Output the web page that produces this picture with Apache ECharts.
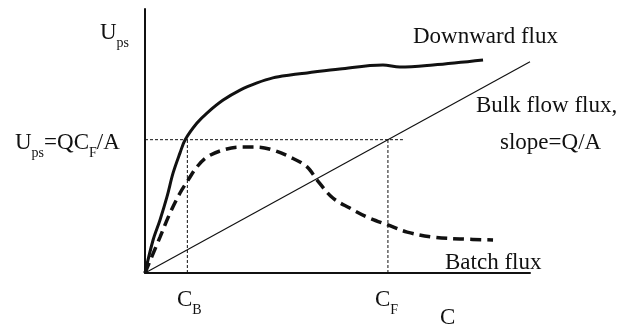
<!DOCTYPE html>
<html><head><meta charset="utf-8">
<script src="https://cdn.jsdelivr.net/npm/echarts@6/dist/echarts.min.js"></script>
<style>html,body{margin:0;padding:0;background:#fff}#c{width:621px;height:326px}</style>
</head><body><div id="c"></div>
<script>
// Concentration C (x) values and flux values (y), arbitrary units
const downwardX = [0, 0.21, 0.39, 0.57, 0.73, 0.91, 1.04, 1.35, 1.61, 2.03, 2.47, 2.91, 3.32, 3.77, 4.21, 5.06, 6.18, 6.62, 7.48, 8.78];
const downwardY = [0, 1.25, 2.01, 2.88, 3.79, 4.55, 5.04, 5.68, 6.06, 6.55, 6.93, 7.20, 7.39, 7.50, 7.58, 7.73, 7.88, 7.80, 7.88, 8.07];
const batchX = [0, 0.39, 0.65, 0.91, 1.12, 1.35, 1.61, 2.03, 2.47, 2.91, 3.32, 3.77, 4.21, 4.47, 4.88, 5.32, 5.77, 6.31, 6.81, 7.48, 8.18, 9.04];
const batchY = [0, 1.36, 2.27, 3.03, 3.52, 4.02, 4.39, 4.66, 4.77, 4.77, 4.66, 4.39, 4.02, 3.52, 2.84, 2.46, 2.12, 1.82, 1.55, 1.36, 1.29, 1.25];
const bulkX = [0, 10];
const bulkY = [0, 8.0];
const cB = 1.1;
const cF = 6.31;
const upsFeed = 5.05;
const hLineEnd = 6.7;

const pair = (xs, ys) => xs.map((x, i) => [x, ys[i]]);
const FONT = '"Liberation Serif", "Times New Roman", serif';
const INK = '#111';

const chart = echarts.init(document.getElementById('c'), null, {renderer: 'canvas'});
const subRich = {
  m: {fontSize: 23, fontFamily: FONT, color: INK},
  s: {fontSize: 14, fontFamily: FONT, color: INK, padding: [20, 0, 0, 0]}
};
function txt(x, y, text, rich) {
  return {type: 'text', x: x, y: y, style: {text: text, fill: INK, font: '23px ' + FONT, verticalAlign: 'top', align: 'left', rich: rich}};
}
chart.setOption({
  animation: false,
  backgroundColor: '#fff',
  grid: {left: 145, right: 91, top: 9, bottom: 53},
  xAxis: {type: 'value', min: 0, max: 10, axisLine: {show: true, onZero: false, lineStyle: {color: INK, width: 2}}, axisTick: {show: false}, axisLabel: {show: false}, splitLine: {show: false}},
  yAxis: {type: 'value', min: 0, max: 10, axisLine: {show: true, onZero: false, lineStyle: {color: INK, width: 2}}, axisTick: {show: false}, axisLabel: {show: false}, splitLine: {show: false}},
  series: [
    {type: 'line', data: pair(bulkX, bulkY), showSymbol: false, lineStyle: {color: INK, width: 1.2}},
    {type: 'line', data: [[0, upsFeed], [hLineEnd, upsFeed]], showSymbol: false, lineStyle: {color: INK, width: 1, type: [3, 2]}},
    {type: 'line', data: [[cB, 0], [cB, upsFeed]], showSymbol: false, lineStyle: {color: INK, width: 1, type: [3, 2]}},
    {type: 'line', data: [[cF, 0], [cF, upsFeed]], showSymbol: false, lineStyle: {color: INK, width: 1, type: [3, 2]}},
    {type: 'line', data: pair(downwardX, downwardY), smooth: 0.35, showSymbol: false, lineStyle: {color: INK, width: 3}},
    {type: 'line', data: pair(batchX, batchY), smooth: 0.35, showSymbol: false, lineStyle: {color: INK, width: 3.5, type: [11, 6]}}
  ],
  graphic: [
    txt(100, 16, '{m|U}{s|ps}', subRich),
    txt(15, 126, '{m|U}{s|ps}{m|=QC}{s|F}{m|/A}', subRich),
    txt(413, 25, 'Downward flux'),
    txt(476, 94, 'Bulk flow flux,'),
    txt(500, 131, 'slope=Q/A'),
    txt(445, 251, 'Batch flux'),
    txt(177, 283, '{m|C}{s|B}', subRich),
    txt(375, 283, '{m|C}{s|F}', subRich),
    txt(440, 306, 'C')
  ]
});
</script></body></html>
